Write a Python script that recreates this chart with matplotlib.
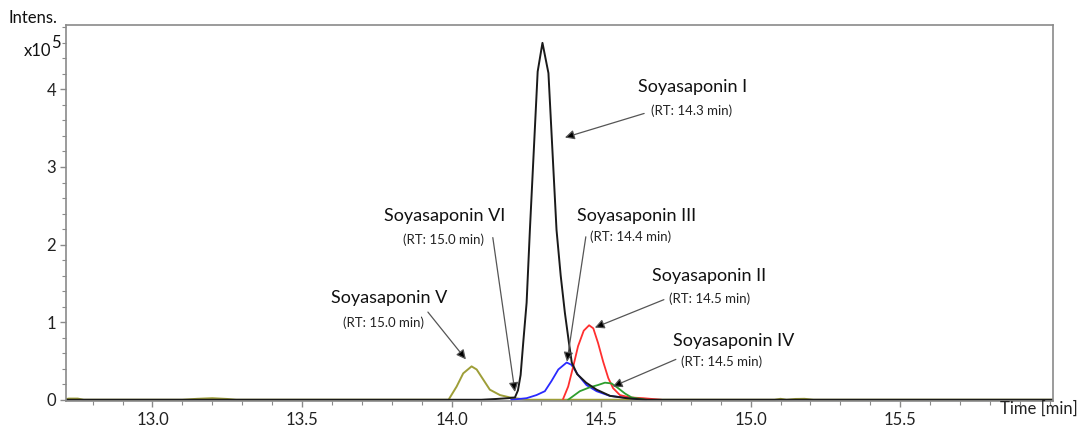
import matplotlib
matplotlib.use("Agg")
import matplotlib.pyplot as plt
from matplotlib.ticker import MultipleLocator

plt.rcParams['font.family'] = ['Lato', 'DejaVu Sans']

# chromatogram traces (time in min, intensity in 1e5)
t_black = [12.70, 14.10, 14.15, 14.19, 14.212, 14.222, 14.231, 14.240, 14.251, 14.262,
           14.288, 14.304, 14.324, 14.351, 14.365, 14.379, 14.392, 14.402, 14.42,
           14.45, 14.485, 14.53, 14.585, 14.65, 16.05]
i_black = [0.0, 0.0, 0.01, 0.02, 0.03, 0.12, 0.32, 0.75, 1.25, 2.19,
           4.23, 4.60, 4.21, 2.19, 1.60, 1.12, 0.75, 0.48, 0.33,
           0.22, 0.13, 0.05, 0.02, 0.0, 0.0]

t_olive = [12.70, 12.72, 12.75, 12.77, 13.10, 13.15, 13.20, 13.25, 13.28, 13.99,
           14.017, 14.039, 14.067, 14.084, 14.106, 14.128, 14.162, 14.195, 14.25,
           15.08, 15.10, 15.12, 15.15, 15.18, 15.21, 16.05]
i_olive = [0.0, 0.015, 0.015, 0.0, 0.0, 0.012, 0.02, 0.01, 0.0, 0.0,
           0.17, 0.34, 0.43, 0.39, 0.26, 0.13, 0.06, 0.03, 0.0,
           0.0, 0.012, 0.0, 0.01, 0.012, 0.0, 0.0]

t_blue = [14.20, 14.251, 14.284, 14.312, 14.334, 14.357, 14.385, 14.401, 14.423,
          14.451, 14.485, 14.529, 14.596, 14.65]
i_blue = [0.0, 0.02, 0.06, 0.11, 0.24, 0.39, 0.48, 0.45, 0.32,
          0.19, 0.11, 0.05, 0.02, 0.0]

t_red = [14.373, 14.390, 14.407, 14.423, 14.442, 14.460, 14.474, 14.490, 14.507,
         14.524, 14.540, 14.563, 14.596, 14.641, 14.70]
i_red = [0.01, 0.17, 0.43, 0.69, 0.89, 0.96, 0.92, 0.73, 0.49,
         0.28, 0.15, 0.06, 0.03, 0.02, 0.0]

t_green = [14.390, 14.429, 14.462, 14.490, 14.513, 14.535, 14.557, 14.580, 14.602, 14.65]
i_green = [0.0, 0.11, 0.16, 0.19, 0.22, 0.21, 0.15, 0.08, 0.03, 0.0]

# labels: name, RT text, arrow target (t, I)
names = ['Soyasaponin I', 'Soyasaponin VI', 'Soyasaponin V',
         'Soyasaponin III', 'Soyasaponin II', 'Soyasaponin IV']
rts = ['(RT: 14.3 min)', '(RT: 15.0 min)', '(RT: 15.0 min)',
       '(RT: 14.4 min)', '(RT: 14.5 min)', '(RT: 14.5 min)']
targets = [(14.379, 3.38), (14.212, 0.10), (14.048, 0.52),
           (14.386, 0.49), (14.479, 0.93), (14.539, 0.17)]

# layout (data coords): name position, RT position, arrow start
name_pos = [(14.807, 4.03), (13.978, 2.37), (13.792, 1.31),
            (14.620, 2.37), (14.861, 1.59), (14.944, 0.76)]
rt_pos = [(14.803, 3.72), (13.972, 2.06), (13.772, 0.99),
          (14.600, 2.10), (14.864, 1.30), (14.904, 0.49)]
arrow_from = [(14.644, 3.69), (14.138, 2.09), (13.921, 1.13),
              (14.449, 2.10), (14.710, 1.29), (14.750, 0.52)]

fig = plt.figure(figsize=(10.83, 4.29), dpi=100)
ax = fig.add_axes([0.0607, 0.0664, 0.9113, 0.8753])

ax.plot(t_olive, i_olive, color='#9e9e38', lw=1.4)
ax.plot(t_blue, i_blue, color='#2a2aff', lw=1.3)
ax.plot(t_red, i_red, color='#ff2f2f', lw=1.3)
ax.plot(t_green, i_green, color='#2e9e2e', lw=1.3)
ax.plot(t_black, i_black, color='#1a1a1a', lw=1.4)

for k in range(len(names)):
    ax.text(name_pos[k][0], name_pos[k][1], names[k], ha='center', va='center',
            fontsize=13, color='#111111')
    ax.text(rt_pos[k][0], rt_pos[k][1], rts[k], ha='center', va='center',
            fontsize=9.5, color='#222222')
    ax.annotate('', xy=targets[k], xytext=arrow_from[k],
                arrowprops=dict(arrowstyle='-|>', color='#555555', lw=0.9,
                                mutation_scale=14, shrinkA=0, shrinkB=0,
                                fc='black'))

ax.set_xlim(12.71, 16.01)
ax.set_ylim(-0.01, 4.83)

ax.xaxis.set_major_locator(MultipleLocator(0.5))
ax.xaxis.set_minor_locator(MultipleLocator(0.1))
ax.yaxis.set_major_locator(MultipleLocator(1))
ax.yaxis.set_minor_locator(MultipleLocator(0.2))
ax.set_xticks([13.0, 13.5, 14.0, 14.5, 15.0, 15.5])
ax.set_xticklabels(['13.0', '13.5', '14.0', '14.5', '15.0', '15.5'])

for s in ax.spines.values():
    s.set_color('#8a8a8a')
    s.set_linewidth(1.2)
ax.tick_params(which='both', color='#8a8a8a', direction='out', labelsize=12,
               labelcolor='#222222')
ax.tick_params(which='major', length=4, width=1)
ax.tick_params(which='minor', length=3, width=0.8)
ax.tick_params(axis='x', pad=4)
ax.tick_params(axis='y', pad=3)

fig.text(9 / 1083, 1 - 18 / 429, 'Intens.', ha='left', va='center', fontsize=12,
         color='#111111')
fig.text(51 / 1083, 1 - 51 / 429, 'x10', ha='right', va='center', fontsize=12,
         color='#111111')
fig.text(51 / 1083, 1 - 43 / 429, '5', ha='left', va='center', fontsize=12,
         color='#111111')
fig.text(1078 / 1083, 1 - 409 / 429, 'Time [min]', ha='right', va='center',
         fontsize=12, color='#222222')

fig.savefig('out.png', dpi=100)
